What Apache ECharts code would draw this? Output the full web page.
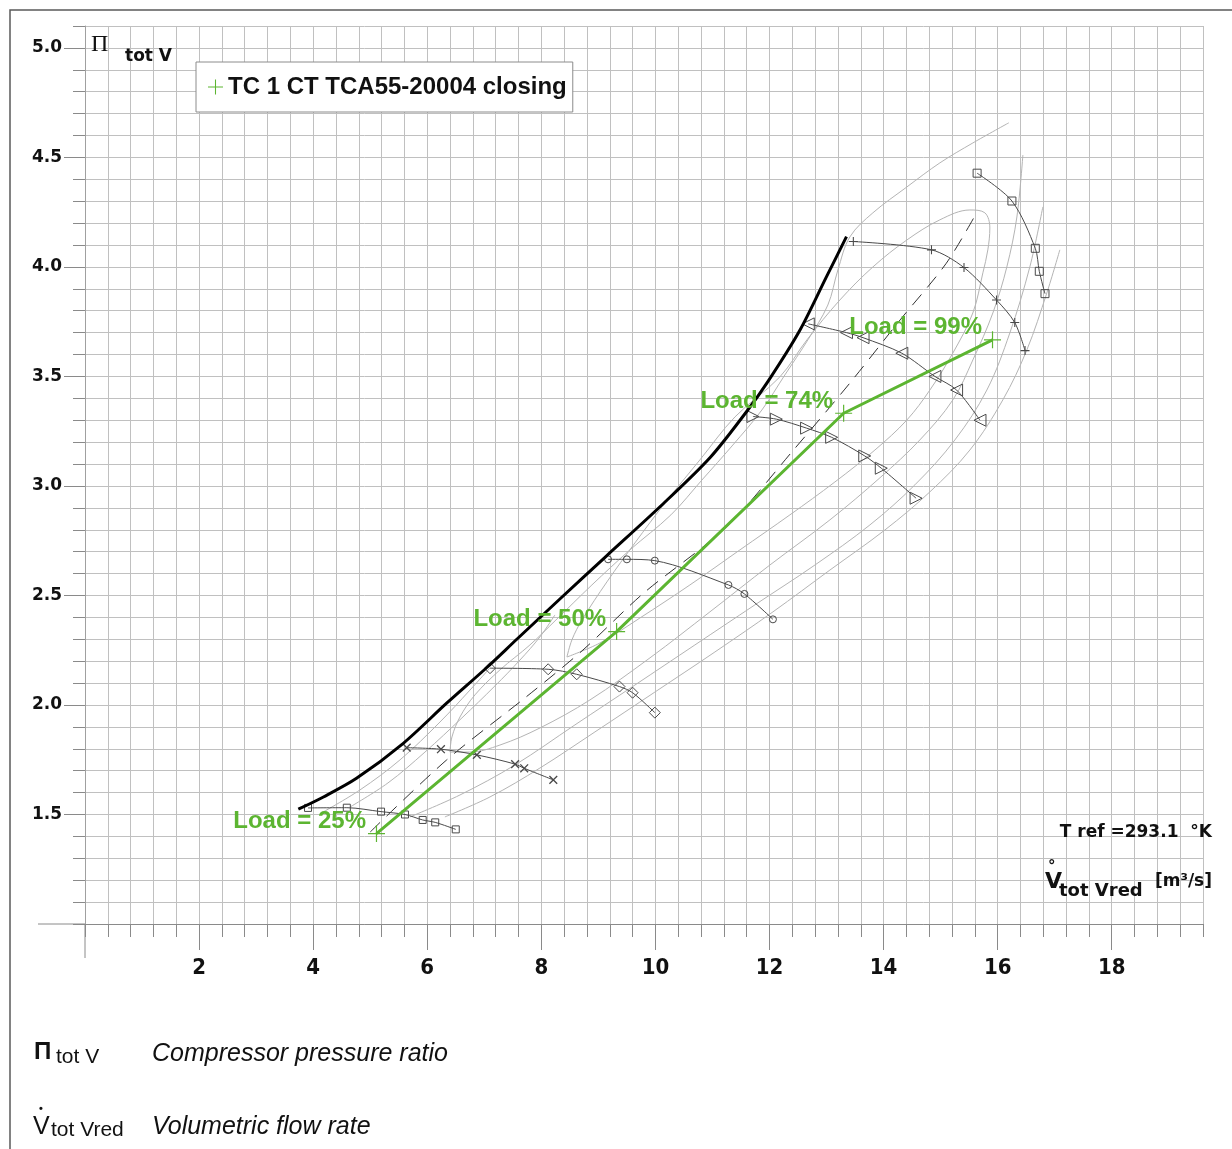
<!DOCTYPE html>
<html>
<head>
<meta charset="utf-8">
<title>Compressor map TCA55-20004</title>
<script src="https://cdn.jsdelivr.net/npm/echarts@6/dist/echarts.min.js"></script>
<style>
  html, body { margin: 0; padding: 0; background: #fff; }
  #chart { width: 1232px; height: 1149px; }
</style>
</head>
<body>
<div id="chart"></div>
<script>
// ---- Compressor map data: x = reduced volume flow [m3/s], y = total pressure ratio ----

// Surge limit
const surgeLine = [[3.74,1.524],[4.18,1.58],[4.76,1.665],[5.58,1.825],[6.34,2.008],[7.04,2.17],[7.57,2.30],
  [8.33,2.485],[9.14,2.68],[10.08,2.905],[10.96,3.13],[11.6,3.34],[11.98,3.48],[12.53,3.71],[13.0,3.956],[13.35,4.138]];

// Speed lines (one array per speed, each with its own marker)
const speedSquaresLow  = [[3.91,1.53],[4.59,1.531],[5.19,1.513],[5.61,1.50],[5.92,1.475],[6.14,1.464],[6.50,1.432]];
const speedCrosses     = [[5.64,1.805],[6.24,1.798],[6.87,1.772],[7.54,1.73],[7.70,1.711],[8.21,1.658]];
const speedDiamonds    = [[7.10,2.168],[8.12,2.163],[8.62,2.14],[9.37,2.084],[9.60,2.056],[9.99,1.965]];
const speedCircles     = [[9.17,2.665],[9.50,2.665],[9.99,2.659],[11.28,2.548],[11.56,2.507],[12.06,2.391]];
const speedTriRight    = [[11.71,3.317],[12.12,3.305],[12.65,3.264],[13.09,3.222],[13.67,3.137],[13.96,3.081],[14.57,2.944]];
const speedTriLeft     = [[12.68,3.74],[13.35,3.70],[13.64,3.677],[14.32,3.606],[14.90,3.50],[15.28,3.438],[15.69,3.30]];
const speedPlus        = [[13.47,4.116],[14.84,4.078],[15.41,3.997],[15.98,3.849],[16.30,3.746],[16.48,3.618]];
const speedSquaresHigh = [[15.64,4.428],[16.25,4.301],[16.66,4.085],[16.73,3.98],[16.83,3.878]];

// Line of best efficiency (dashed)
const peakEfficiency = [[5.00,1.42],[6.34,1.749],[7.74,2.038],[8.73,2.251],[9.79,2.51],[11.25,2.814],
  [12.42,3.164],[13.41,3.47],[14.29,3.758],[15.10,4.017],[15.65,4.256]];

// Efficiency contours
const effIsland = [[8.449,2.219],[8.536,2.297],[8.712,2.388],[9.150,2.562],[9.641,2.740],[10.167,2.922],[10.780,3.119],
  [11.394,3.315],[12.182,3.498],[12.656,3.667],[13.234,3.849],[13.813,4.000],[14.408,4.123],[14.987,4.215],[15.513,4.260],
  [15.776,4.247],[15.863,4.178],[15.828,4.078],[15.741,3.973],[15.565,3.790],[15.215,3.607],[14.812,3.438],[14.408,3.301],
  [13.848,3.164],[13.146,3.018],[12.358,2.868],[11.481,2.708],[10.605,2.548],[9.728,2.397],[9.027,2.283],[8.449,2.219]];
const effLoop = [[16.196,4.658],[15.565,4.566],[14.987,4.475],[14.408,4.365],[13.813,4.247],[13.409,4.137],[13.199,3.986],
  [13.023,3.826],[12.673,3.667],[12.270,3.507],[11.867,3.347],[11.358,3.187],[10.815,3.027],[10.272,2.868],[9.553,2.708],
  [8.887,2.548],[8.256,2.388],[7.800,2.274],[7.274,2.160],[6.836,2.046],[6.573,1.945],[6.433,1.854],[6.398,1.785],
  [6.748,1.785],[7.274,1.817],[7.976,1.895],[8.852,2.023],[9.904,2.215],[10.955,2.425],[12.007,2.639],[13.059,2.845],
  [13.935,3.037],[14.636,3.210],[15.215,3.393],[15.565,3.575],[15.916,3.790],[16.161,4.000],[16.337,4.228],[16.442,4.511]];
const effLeftOuter = [[4.172,1.511],[4.820,1.612],[5.521,1.749],[6.223,1.922],[6.749,2.068],[7.099,2.169]];
const effLeftInner = [[4.645,1.534],[5.311,1.644],[5.960,1.785],[6.608,1.941],[7.187,2.087],[7.625,2.205],[7.976,2.311],[8.238,2.411]];
const effRightInner = [[16.792,4.274],[16.564,4.000],[16.214,3.699],[15.811,3.438],[15.250,3.210],[14.549,3.005],[13.760,2.822],
  [12.796,2.639],[11.744,2.457],[10.692,2.274],[9.641,2.091],[8.589,1.909],[7.537,1.726],[6.573,1.589],[5.697,1.489]];
const effRightOuter = [[17.090,4.078],[16.862,3.881],[16.512,3.621],[16.091,3.393],[15.513,3.164],[14.812,2.973],[14.023,2.799],
  [13.059,2.616],[12.060,2.425],[11.043,2.242],[9.991,2.059],[8.940,1.877],[7.975,1.712],[7.099,1.580],[6.310,1.489]];

// Operating line of the engine
const opFlow  = [5.11, 9.32, 13.30, 15.91];
const opRatio = [1.413, 2.335, 3.332, 3.667];
const opLoad  = [25, 50, 74, 99];
const opName  = 'TC 1 CT TCA55-20004 closing';

// Axis ranges and tick labels
const flowMin = 0, flowMax = 19.6, flowGridStep = 0.4;
const flowTickLabels = [2, 4, 6, 8, 10, 12, 14, 16, 18];
const ratioMin = 1.0, ratioMax = 5.1, ratioGridStep = 0.1;
const ratioTickLabels = [1.5, 2.0, 2.5, 3.0, 3.5, 4.0, 4.5, 5.0];

// ---- layout & styles ----
const GRID = { left: 85, top: 26, width: 1118, height: 898 };
const GREEN = '#5cb531';
const SPEED = '#4a4a4a';
const CONTOUR = '#b4b4b4';
const TICK = '#8a8a8a';
const PLUS = 'path://M0,8.8H20V11.2H0Z M8.8,0H11.2V20H8.8Z';
const PLUS_THIN = 'path://M0,9.3H20V10.7H0Z M9.3,0H10.7V20H9.3Z';

function contour(data) {
  return { type: 'line', data: data, smooth: 0.35, showSymbol: false, silent: true, z: 2,
    lineStyle: { color: CONTOUR, width: 1 } };
}
function speedLine(data, symbol, size, rotate, filled) {
  return { type: 'line', data: data, smooth: 0.3, silent: true, z: 4,
    symbol: symbol, symbolSize: size, symbolRotate: rotate || 0, symbolKeepAspect: true, showSymbol: true,
    lineStyle: { color: SPEED, width: 1 },
    itemStyle: filled ? { color: SPEED, borderWidth: 0 }
                      : { color: 'rgba(255,255,255,0)', borderColor: SPEED, borderWidth: 1 } };
}

const opData = opFlow.map((f, i) => [f, opRatio[i]]);

const option = {
  animation: false,
  backgroundColor: '#ffffff',
  grid: Object.assign({ containLabel: false, outerBoundsMode: 'none' }, GRID),
  legend: {
    show: true, left: 196, top: 62, selectedMode: false,
    data: [{ name: opName, icon: PLUS_THIN }],
    itemWidth: 15, itemHeight: 15,
    padding: [13, 6, 13, 12],
    backgroundColor: '#ffffff', borderColor: '#8c8c8c', borderWidth: 1,
    textStyle: { fontFamily: '"Liberation Sans", Arial, sans-serif', fontWeight: 'bold', fontSize: 24, color: '#111' }
  },
  xAxis: [
    { type: 'value', min: flowMin, max: flowMax, interval: flowGridStep, position: 'bottom',
      axisLine: { show: true, lineStyle: { color: TICK, width: 1 } },
      axisTick: { show: true, inside: false, length: 13, lineStyle: { color: TICK } },
      axisLabel: { show: false },
      splitLine: { show: true, lineStyle: { color: '#c0c0c0', width: 1 } } },
    { type: 'value', min: flowMin, max: flowMax, position: 'bottom', offset: 0,
      axisLine: { show: false },
      axisTick: { show: true, length: 26, customValues: flowTickLabels, lineStyle: { color: TICK } },
      splitLine: { show: false },
      axisLabel: { show: true, margin: 33, color: '#111', customValues: flowTickLabels,
        fontFamily: '"Liberation Sans Narrow", "DejaVu Sans Condensed", sans-serif', fontWeight: 'bold', fontSize: 22,
        formatter: v => String(Math.round(v)) } }
  ],
  yAxis: [
    { type: 'value', min: ratioMin, max: ratioMax, interval: ratioGridStep, position: 'left',
      axisLine: { show: true, lineStyle: { color: '#a0a0a0', width: 1 } },
      axisTick: { show: true, length: 12, lineStyle: { color: TICK } },
      axisLabel: { show: false },
      splitLine: { show: true, lineStyle: { color: '#c0c0c0', width: 1 } } },
    { type: 'value', min: ratioMin, max: ratioMax, position: 'left', offset: 0,
      axisLine: { show: false },
      axisTick: { show: true, length: 21, customValues: ratioTickLabels, lineStyle: { color: TICK } },
      splitLine: { show: false },
      axisLabel: { show: true, margin: 23, color: '#111', customValues: ratioTickLabels,
        fontFamily: '"DejaVu Sans", sans-serif', fontWeight: 'bold', fontSize: 17,
        formatter: v => v.toFixed(1) } }
  ],
  series: [
    contour(effIsland),
    contour(effLoop),
    contour(effLeftOuter),
    contour(effLeftInner),
    contour(effRightInner),
    contour(effRightOuter),
    { type: 'line', data: peakEfficiency, smooth: 0.3, showSymbol: false, silent: true, z: 3,
      lineStyle: { color: '#333', width: 1, type: [14, 9] } },
    speedLine(speedSquaresLow, 'rect', 7),
    speedLine(speedCrosses, PLUS, 11, 45, true),
    speedLine(speedDiamonds, 'diamond', 11),
    speedLine(speedCircles, 'circle', 7),
    speedLine(speedTriRight, 'triangle', 12, -90),
    speedLine(speedTriLeft, 'triangle', 12, 90),
    speedLine(speedPlus, PLUS, 9, 0, true),
    speedLine(speedSquaresHigh, 'rect', 8),
    { type: 'line', data: surgeLine, smooth: 0.3, showSymbol: false, silent: true, z: 5,
      lineStyle: { color: '#000', width: 3 } },
    { name: opName, type: 'line', data: opData, z: 6, silent: true,
      symbol: PLUS_THIN, symbolSize: 17, symbolKeepAspect: true, showSymbol: true,
      lineStyle: { color: GREEN, width: 3 },
      itemStyle: { color: GREEN, borderWidth: 0 },
      label: { show: true, position: 'left', distance: 2, offset: [0, -12], color: GREEN,
        fontFamily: '"Liberation Sans", Arial, sans-serif', fontWeight: 'bold', fontSize: 24,
        formatter: p => 'Load = ' + opLoad[p.dataIndex] + '%' } }
  ],
  graphic: buildAnnotations()
};

function txt(x, y, text, font, align) {
  return { type: 'text', x: x, y: y, silent: true, z: 100,
    style: { text: text, font: font, fill: '#111', align: align || 'left', verticalAlign: 'middle',
             textAlign: align || 'left', textVerticalAlign: 'middle' } };
}

function buildAnnotations() {
  const axisY = GRID.top + GRID.height;
  const sans = '"Liberation Sans", Arial, sans-serif';
  const dv = '"DejaVu Sans", sans-serif';
  return [
    // page frame
    { type: 'polyline', silent: true, shape: { points: [[10, 1149], [10, 10], [1232, 10]] },
      style: { stroke: '#5a5a5a', lineWidth: 1.5, fill: null } },
    // axis extensions past the origin
    { type: 'line', silent: true, shape: { x1: 38, y1: axisY, x2: GRID.left, y2: axisY },
      style: { stroke: TICK, lineWidth: 1 } },
    { type: 'line', silent: true, shape: { x1: GRID.left, y1: axisY, x2: GRID.left, y2: axisY + 34 },
      style: { stroke: TICK, lineWidth: 1 } },
    // y axis title
    txt(91, 45, '\u03A0', '24px "Liberation Serif", "DejaVu Serif", serif'),
    txt(125, 57, 'tot V', 'bold 17px ' + dv),
    // reference temperature and x axis title
    txt(1212, 833, 'T ref =293.1  \u00B0K', 'bold 17px ' + dv, 'right'),
    txt(1045, 882, 'V', 'bold 22px ' + dv),
    txt(1048, 867, '\u00B0', 'bold 15px ' + dv),
    txt(1059, 891, 'tot Vred', 'bold 18px ' + dv),
    txt(1212, 882, '[m\u00B3/s]', 'bold 17px ' + dv, 'right'),
    // symbol explanations below the chart
    txt(34, 1052, '\u03A0', 'bold 24px ' + sans),
    txt(56, 1057, 'tot V', '21px ' + sans),
    txt(152, 1054, 'Compressor pressure ratio', 'italic 25px ' + sans),
    txt(33, 1127, 'V', '25px ' + sans),
    txt(39, 1109, '\u2022', 'bold 11px ' + sans),
    txt(51, 1130, 'tot Vred', '21px ' + sans),
    txt(152, 1127, 'Volumetric flow rate', 'italic 25px ' + sans)
  ];
}

const chart = echarts.init(document.getElementById('chart'), null, { renderer: 'canvas', width: 1232, height: 1149 });
chart.setOption(option);
</script>
</body>
</html>
